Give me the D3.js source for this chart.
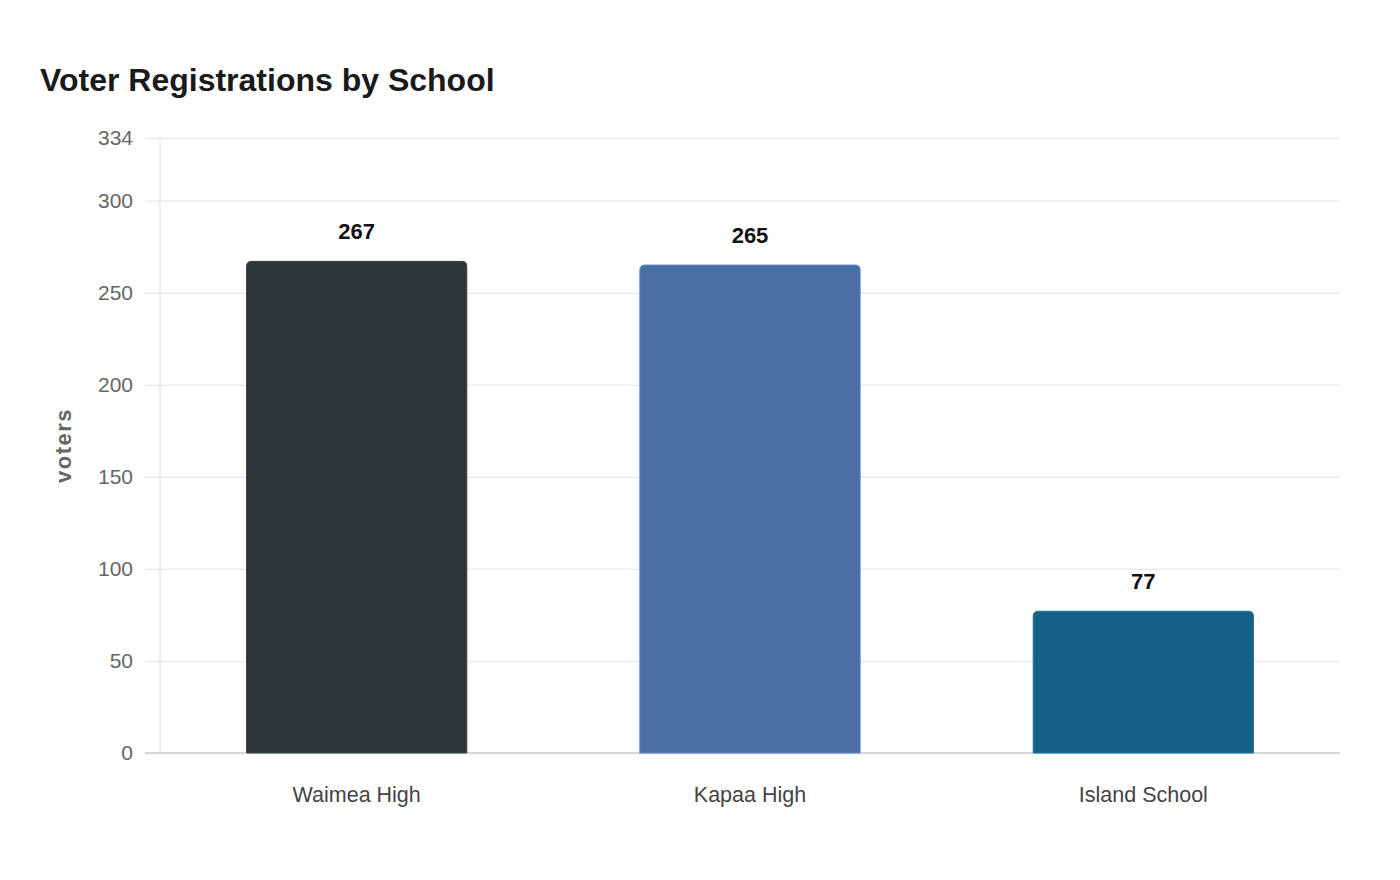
<!DOCTYPE html>
<html>
<head>
<meta charset="utf-8">
<script src="https://cdn.jsdelivr.net/npm/d3@7"></script>
<style>
  body { margin: 0; background: #fff; }
  svg { font-family: "Liberation Sans", Arial, sans-serif; }
</style>
</head>
<body>
<svg id="chart"></svg>
<script>
// chart data
const schools = ["Waimea High", "Kapaa High", "Island School"];
const voters = [267, 265, 77];
const barColors = ["#2e3538", "#4a6fa5", "#176087"];
const yTicks = [0, 50, 100, 150, 200, 250, 300, 334];

const width = 1400, height = 880;
const margin = { top: 138, right: 60, bottom: 127, left: 160 };

const svg = d3.select("#chart").attr("width", width).attr("height", height);

const x = d3.scaleBand()
  .domain(schools)
  .range([margin.left, width - margin.right])
  .paddingInner(0.44)
  .paddingOuter(0.22);

const y = d3.scaleLinear()
  .domain([0, 334])
  .range([height - margin.bottom, margin.top]);

// title
svg.append("text")
  .attr("x", 40).attr("y", 91)
  .style("font-size", "32px").style("font-weight", "bold")
  .attr("fill", "#1a1a1a")
  .text("Voter Registrations by School");

// gridlines + y labels
const yAxis = svg.append("g")
  .attr("transform", `translate(${margin.left},0)`)
  .call(d3.axisLeft(y).tickValues(yTicks).tickSizeInner(-(width - margin.left - margin.right)).tickSizeOuter(0));
yAxis.select(".domain").remove();
yAxis.selectAll(".tick line")
  .attr("x1", -15)
  .attr("stroke", "#ebebeb").attr("stroke-width", 1.5);
yAxis.selectAll(".tick text")
  .attr("x", -27)
  .style("font-size", "21px").attr("fill", "#666");

// vertical axis line
svg.append("line")
  .attr("x1", margin.left).attr("x2", margin.left)
  .attr("y1", y(334)).attr("y2", y(0))
  .attr("stroke", "#e0e0e0").attr("stroke-width", 1);

// bottom axis
const xAxis = svg.append("g")
  .attr("transform", `translate(0,${y(0)})`)
  .call(d3.axisBottom(x).tickSize(0).tickPadding(34));
xAxis.select(".domain").remove();
xAxis.selectAll(".tick text").style("font-size", "21.5px").attr("fill", "#444");
svg.append("line")
  .attr("x1", margin.left - 15).attr("x2", width - margin.right)
  .attr("y1", y(0)).attr("y2", y(0))
  .attr("stroke", "#cccccc").attr("stroke-width", 1.5);

// bars with rounded top corners
const r = 5;
function barPath(x0, y0, w, h) {
  return `M${x0},${y0 + h}V${y0 + r}Q${x0},${y0} ${x0 + r},${y0}H${x0 + w - r}Q${x0 + w},${y0} ${x0 + w},${y0 + r}V${y0 + h}Z`;
}
const data = schools.map((s, i) => ({ school: s, value: voters[i], color: barColors[i] }));

svg.append("g").selectAll("path")
  .data(data)
  .enter().append("path")
  .attr("d", d => barPath(x(d.school), y(d.value), x.bandwidth(), y(0) - y(d.value)))
  .attr("fill", d => d.color)
  .attr("stroke", d => d3.color(d.color).brighter(0.6))
  .attr("stroke-width", 1);

// value labels
svg.append("g").selectAll("text")
  .data(data)
  .enter().append("text")
  .attr("x", d => x(d.school) + x.bandwidth() / 2)
  .attr("y", d => y(d.value) - 22)
  .attr("text-anchor", "middle")
  .style("font-size", "22px").style("font-weight", "bold")
  .attr("fill", "#111")
  .text(d => d.value);

// y axis title
svg.append("text")
  .attr("transform", `translate(71,${(y(0) + y(334)) / 2}) rotate(-90)`)
  .attr("text-anchor", "middle")
  .style("font-size", "22px").style("font-weight", "bold")
  .style("letter-spacing", "1.5px")
  .attr("fill", "#666")
  .text("voters");
</script>
</body>
</html>
